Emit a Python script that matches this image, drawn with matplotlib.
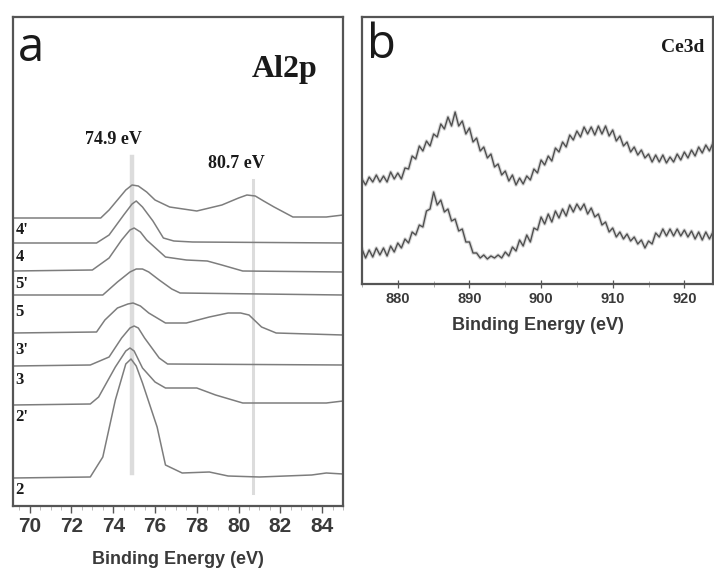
import numpy as np
import matplotlib
matplotlib.use("Agg")
import matplotlib.pyplot as plt
from matplotlib.ticker import MultipleLocator

# ---------------- Al2p spectra (stacked, arbitrary intensity offsets) ----------------
al_labels = ["4'", "4", "5'", "5", "3'", "3", "2'", "2"]
al_label_y = [276, 249, 222, 194, 156, 126, 89, 16]

al_e1 = [69.2, 73.4, 73.8, 74.2, 74.6, 74.9, 75.2, 75.6, 76.0, 76.7, 78.0, 79.2, 80.0, 80.4, 80.8, 81.2, 81.7, 82.6, 84.2, 85.0]
al_i1 = [288, 288, 296, 306, 316, 321, 320, 314, 306, 299, 295, 301, 308, 311, 310, 305, 299, 289, 289, 291]

al_e2 = [69.2, 73.2, 73.8, 74.5, 74.9, 75.1, 75.4, 75.9, 76.4, 76.9, 77.8, 85.0]
al_i2 = [263, 263, 271, 291, 302, 305, 299, 285, 268, 265, 264, 263]

al_e3 = [69.2, 73.0, 73.8, 74.4, 74.8, 75.0, 75.3, 75.6, 76.5, 77.5, 78.5, 79.2, 80.2, 85.0]
al_i3 = [235, 236, 248, 266, 276, 278, 274, 266, 249, 246, 245, 241, 235, 234]

al_e4 = [69.2, 73.5, 74.2, 74.8, 75.1, 75.4, 75.7, 76.2, 76.8, 77.2, 85.0]
al_i4 = [211, 211, 224, 234, 237, 237, 234, 226, 217, 213, 211]

al_e5 = [69.2, 73.2, 73.6, 74.2, 74.7, 74.95, 75.3, 75.7, 76.5, 77.5, 78.6, 79.5, 80.1, 80.5, 81.1, 81.8, 85.0]
al_i5 = [173, 174, 186, 198, 202, 203, 200, 193, 183, 183, 189, 193, 193, 191, 179, 173, 171]

al_e6 = [69.2, 72.9, 73.8, 74.4, 74.8, 75.0, 75.2, 75.5, 76.2, 76.6, 85.0]
al_i6 = [140, 141, 149, 168, 178, 180, 178, 168, 148, 142, 141]

al_e7 = [69.2, 72.9, 73.3, 74.1, 74.6, 74.8, 75.0, 75.4, 76.0, 76.5, 78.0, 78.9, 80.2, 84.2, 85.0]
al_i7 = [101, 102, 109, 139, 155, 158, 155, 138, 124, 118, 118, 111, 103, 103, 105]

al_e8 = [69.2, 72.9, 73.5, 74.1, 74.6, 74.85, 75.1, 75.4, 76.1, 76.5, 77.3, 78.6, 79.5, 81.0, 83.5, 84.2, 85.0]
al_i8 = [28, 29, 49, 106, 142, 147, 140, 123, 79, 41, 33, 34, 30, 29, 31, 33, 32]

al_peaks = [74.9, 80.7]
al_peak_text = ["74.9 eV", "80.7 eV"]

# ---------------- Ce3d spectra ----------------
ce_energy = np.arange(875.0, 924.01, 0.5)
ce_upper = [105, 99, 107, 102, 109, 102, 108, 102, 112, 105, 111, 105, 116, 115, 128, 125,
            138, 133, 143, 138, 150, 147, 160, 155, 167, 158, 172, 158, 163, 150, 156, 142,
            146, 133, 137, 126, 130, 117, 120, 109, 113, 103, 109, 99, 106, 100, 108, 104,
            115, 111, 124, 119, 128, 123, 136, 132, 142, 137, 149, 144, 153, 147, 157, 150,
            157, 149, 158, 150, 158, 148, 154, 143, 148, 138, 142, 132, 137, 129, 134, 126,
            130, 122, 129, 122, 129, 121, 127, 122, 130, 124, 132, 126, 134, 128, 137, 131,
            139, 133, 141]
ce_lower = [35, 26, 34, 27, 36, 29, 36, 28, 38, 32, 41, 36, 45, 41, 52, 49,
            59, 57, 73, 75, 92, 79, 84, 72, 75, 63, 65, 53, 55, 42, 42, 31,
            31, 26, 29, 25, 28, 26, 29, 26, 32, 28, 37, 33, 44, 38, 49, 42,
            56, 54, 67, 60, 70, 62, 73, 66, 75, 68, 79, 72, 80, 74, 80, 70,
            76, 67, 70, 59, 62, 52, 56, 47, 52, 45, 50, 43, 47, 40, 44, 36,
            43, 40, 51, 47, 55, 48, 55, 48, 55, 48, 54, 47, 53, 45, 52, 44,
            52, 45, 52]

W, H = 714, 574
fig = plt.figure(figsize=(W / 100, H / 100), dpi=100)

frame_col = "#555555"
line_col = "#7d7d7d"
tick_font = dict(family="Liberation Sans", weight="bold", color="#3a3a3a")
serif_bold = dict(family="Liberation Serif", weight="bold", color="#1a1a1a")


def fig_rect(x0, y0, x1, y1):
    return [x0 / W, 1 - y1 / H, (x1 - x0) / W, (y1 - y0) / H]


# ---------------- panel a ----------------
ax = fig.add_axes(fig_rect(13, 17, 343, 506))
ax.set_xlim(69.2, 85.0)
ax.set_ylim(0, 489)

# faint guide lines marking the two Al2p components
ax.plot([al_peaks[0]] * 2, [33, 349], color="#dcdcdc", lw=3.2, zorder=1)
ax.plot([al_peaks[1]] * 2, [13, 326], color="#dcdcdc", lw=2.2, zorder=1)

for e, i in [(al_e1, al_i1), (al_e2, al_i2), (al_e3, al_i3), (al_e4, al_i4),
             (al_e5, al_i5), (al_e6, al_i6), (al_e7, al_i7), (al_e8, al_i8)]:
    ax.plot(e, i, color=line_col, lw=1.1, zorder=2, solid_joinstyle="round")

for lbl, y in zip(al_labels, al_label_y):
    ax.text(69.33, y, lbl, fontsize=12, va="center", ha="left", **serif_bold)

ax.text(74.0, 366, al_peak_text[0], fontsize=13, ha="center", va="center", **serif_bold)
ax.text(79.9, 343, al_peak_text[1], fontsize=13, ha="center", va="center", **serif_bold)
ax.text(82.2, 437, "Al2p", fontsize=23, ha="center", va="center", **serif_bold)
ax.text(0.015, 0.985, "a", transform=ax.transAxes, fontsize=34, ha="left", va="top",
        family="Open Sans", color="#1a1a1a")

ax.xaxis.set_major_locator(MultipleLocator(2))
ax.xaxis.set_minor_locator(MultipleLocator(0.5))
ax.set_yticks([])
ax.tick_params(axis="x", which="major", direction="out", length=5, width=1, color=frame_col, pad=3)
ax.tick_params(axis="x", which="minor", direction="out", length=3, width=0.6, color="#b0b0b0")
for t in ax.get_xticklabels():
    t.set_fontsize(15)
    t.set(**tick_font)
ax.set_xlabel("Binding Energy (eV)", fontsize=13, labelpad=11, **tick_font)
for s in ax.spines.values():
    s.set_color(frame_col)
    s.set_linewidth(1.6)

# ---------------- panel b ----------------
bx = fig.add_axes(fig_rect(362, 17, 713, 284))
bx.set_xlim(875.0, 924.0)
bx.set_ylim(0, 267)
for series in (ce_upper, ce_lower):
    bx.plot(ce_energy, series, color="#cfcfcf", lw=2.6, alpha=0.8, solid_joinstyle="round")
    bx.plot(ce_energy, series, color="#505050", lw=1.0, solid_joinstyle="round")
bx.text(0.015, 0.985, "b", transform=bx.transAxes, fontsize=34, ha="left", va="top",
        family="Open Sans", color="#1a1a1a")
bx.text(0.975, 0.885, "Ce3d", transform=bx.transAxes, fontsize=14, ha="right", va="center",
        **serif_bold)
bx.xaxis.set_major_locator(MultipleLocator(10))
bx.xaxis.set_minor_locator(MultipleLocator(5))
bx.set_yticks([])
bx.tick_params(axis="x", which="major", direction="inout", length=6, width=0.9, color=frame_col, pad=3)
bx.tick_params(axis="x", which="minor", direction="inout", length=4, width=0.6, color="#a0a0a0")
for t in bx.get_xticklabels():
    t.set_fontsize(10.5)
    t.set(**tick_font)
bx.set_xlabel("Binding Energy (eV)", fontsize=13, labelpad=8, **tick_font)
for s in bx.spines.values():
    s.set_color(frame_col)
    s.set_linewidth(1.6)

fig.savefig("out.png", dpi=100)
